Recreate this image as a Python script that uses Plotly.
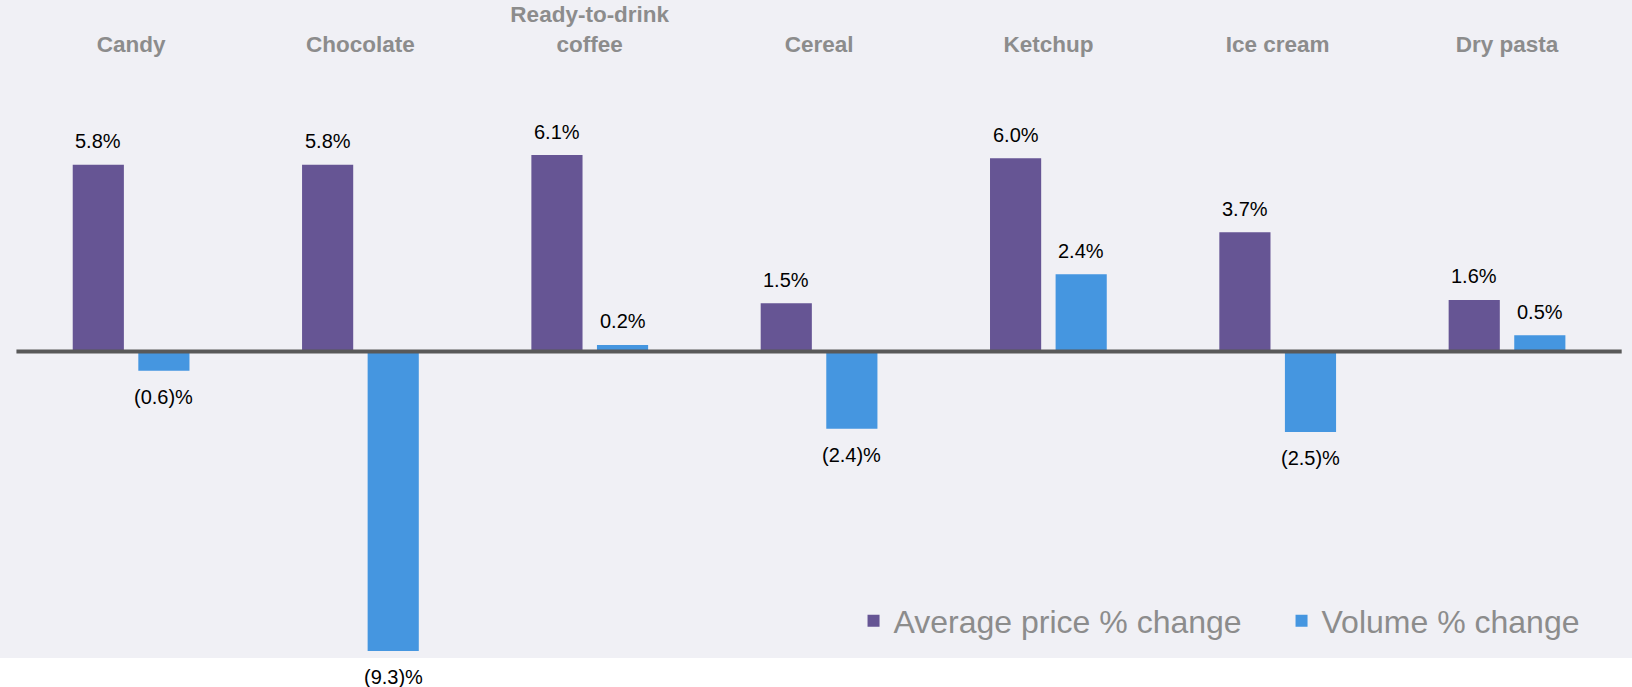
import plotly.graph_objects as go

categories = ["Candy", "Chocolate", "Ready-to-drink<br>coffee", "Cereal", "Ketchup", "Ice cream", "Dry pasta"]
price_change = [5.8, 5.8, 6.1, 1.5, 6.0, 3.7, 1.6]
volume_change = [-0.6, -9.3, 0.2, -2.4, 2.4, -2.5, 0.5]
series_names = ["Average price % change", "Volume % change"]

PURPLE = "#665594"
BLUE = "#4596E0"
BG = "#F0F0F5"
GREY_TXT = "#8C8C8C"
FONT = "Liberation Sans, Arial, sans-serif"

W, H = 1632, 687
T, B = 60, 29
X_RANGE = [-0.5717, 6.545]
Y_RANGE = [-9.52, 9.05]
BARGAP = 0.428
BARGROUPGAP = 0.22


def fmt(v):
    return f"({abs(v):.1f})%" if v < 0 else f"{v:.1f}%"


fig = go.Figure()
fig.add_trace(go.Bar(x=categories, y=price_change, name=series_names[0],
                     marker=dict(color=PURPLE, line=dict(width=0)), legendwidth=383))
fig.add_trace(go.Bar(x=categories, y=volume_change, name=series_names[1],
                     marker=dict(color=BLUE, line=dict(width=0))))

px_per_cat = W / (X_RANGE[1] - X_RANGE[0])
slot = px_per_cat * (1 - BARGAP) / 2
annotations = []
for series, shift in ((price_change, -slot / 2), (volume_change, slot / 2)):
    for c, v in zip(categories, series):
        annotations.append(dict(
            x=c, y=v, xref="x", yref="y", text=fmt(v), showarrow=False,
            xshift=shift, yshift=23.5 if v >= 0 else -26.5, yanchor="middle",
            font=dict(family=FONT, size=20, color="#000000")))

fig.update_layout(
    width=W, height=H,
    margin=dict(l=0, r=0, t=T, b=B, pad=0),
    paper_bgcolor="#FFFFFF", plot_bgcolor=BG,
    barmode="group", bargap=BARGAP, bargroupgap=BARGROUPGAP,
    font=dict(family=FONT),
    xaxis=dict(side="top", range=X_RANGE, showgrid=False, zeroline=False,
               showline=False, ticks="", fixedrange=True, ticklabelstandoff=3,
               tickfont=dict(family=FONT, size=22.5, color=GREY_TXT, weight="bold")),
    yaxis=dict(range=Y_RANGE, showgrid=False, zeroline=False, showline=False,
               showticklabels=False, ticks="", fixedrange=True),
    legend=dict(orientation="h", x=0.523, xanchor="left", y=0.062, yanchor="middle",
                bgcolor="rgba(0,0,0,0)", font=dict(family=FONT, size=32, color=GREY_TXT),
                itemwidth=30),
    annotations=annotations,
    shapes=[
        dict(type="rect", xref="paper", yref="paper", x0=0, x1=1, y0=1, y1=1 + T / (H - T - B),
             fillcolor=BG, line=dict(width=0), layer="below"),
        dict(type="line", xref="x", yref="y", x0=-0.5, x1=6.5, y0=0, y1=0,
             line=dict(color="#595959", width=4), layer="above"),
    ],
)

fig.write_html("out.html", config={"displayModeBar": False},
               post_script="document.body.style.margin='0px';")
